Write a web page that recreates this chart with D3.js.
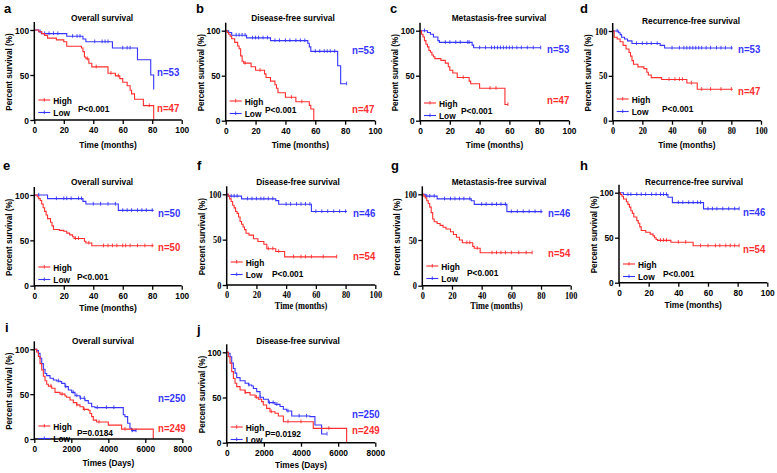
<!DOCTYPE html>
<html><head><meta charset="utf-8">
<script src="https://cdn.jsdelivr.net/npm/d3@7"></script>
<style>body{margin:0;background:#fff}svg{display:block}</style>
</head><body>
<svg id="c" width="777" height="473"></svg>
<script>
// ---------- DATA (time, survival %) step points; censor times ----------
const a_high = [[0,100],[3,98],[5,96],[7,94],[9,91],[15,89],[20,87],[22,82],[32,80],[33,76],[34,70],[35,68],[37,63],[39,59],[50,52],[55,49],[58,46],[60,42],[63,38],[65,33],[66,29],[68,23],[74,16],[81,0]];
const a_high_c = [36,42,52,57,78];
const a_low = [[0,100],[3,98],[5,96],[22,93],[33,90],[35,87],[53,80],[70,67],[79,50],[81,34]];
const a_low_c = [4,7,10,13,16,26,29,31,41,46,48,50,60,63,65];

const b_high = [[0,100],[1,98],[2,96],[3,94],[4,91],[6,87],[8,83],[9,80],[10,72],[11,66],[12,64],[17,60],[20,56],[26,52],[27,48],[30,44],[33,40],[34,36],[35,31],[40,26],[47,21],[56,17],[57,13],[59,0]];
const b_high_c = [13,23,44,51];
const b_low = [[0,100],[2,98],[4,95],[14,92],[30,89],[55,86],[56,82],[57,77],[75,61],[77,41],[81,41]];
const b_low_c = [7,9,11,13,18,20,22,25,28,33,36,40,43,47,50,53,60,63,66,68,70,73,81];

const c_high = [[0,100],[1,96],[2,93],[3,89],[4,85],[5,82],[6,78],[7,76],[8,73],[9,71],[10,69],[14,67],[17,64],[19,60],[20,56],[22,53],[25,48],[33,44],[34,41],[40,36],[57,18],[59,18]];
const c_high_c = [29,47,51,59];
const c_low = [[0,100],[5,98],[7,96],[9,93],[12,89],[13,87],[35,84],[36,81],[81,81]];
const c_low_c = [3,17,20,24,27,32,33,40,44,48,50,52,54,56,58,60,62,65,68,72,76,81];

const d_high = [[0,100],[1,93],[3,91],[5,88],[7,84],[9,80],[11,76],[12,72],[13,67],[14,63],[17,60],[21,58],[23,54],[24,51],[26,48],[33,46],[50,42],[57,35],[81,35]];
const d_high_c = [38,42,45,47,53,60,66,73,80];
const d_low = [[0,100],[4,98],[5,96],[6,93],[8,91],[10,89],[13,86],[32,84],[35,81],[81,81]];
const d_low_c = [3,16,20,23,26,30,40,45,48,50,52,54,56,58,60,63,66,70,73,76,80];

const e_high = [[0,100],[2,98],[3,96],[4,94],[5,90],[6,86],[7,82],[8,78],[9,74],[11,70],[12,66],[13,62],[17,61],[20,60],[22,58],[24,56],[26,54],[27,52],[34,49],[35,47],[39,44],[81,44]];
const e_high_c = [28,30,37,47,50,53,56,60,62,65,70,75,80];
const e_low = [[0,100],[9,96],[33,93],[35,90],[57,83],[81,83]];
const e_low_c = [3,15,20,22,25,30,32,40,45,50,55,60,63,66,70,73,76,80];

const f_high = [[0,100],[1,98],[2,95],[3,92],[4,88],[5,85],[6,81],[7,79],[8,75],[9,70],[10,67],[11,64],[12,61],[13,57],[15,55],[18,51],[21,48],[25,45],[27,40],[33,37],[39,31],[74,31]];
const f_high_c = [28,31,35,45,50,53,57,65,74];
const f_low = [[0,100],[1,98],[10,95],[33,93],[35,89],[57,81],[81,81]];
const f_low_c = [3,5,7,14,17,20,23,25,28,31,40,43,47,50,53,56,60,64,68,72,76,80];

const g_high = [[0,100],[1,98],[2,96],[3,93],[4,90],[5,86],[6,80],[7,73],[8,70],[10,68],[12,66],[14,64],[16,62],[19,59],[21,56],[23,53],[25,50],[27,47],[34,43],[35,41],[39,36],[74,36]];
const g_high_c = [30,32,37,47,50,53,56,60,65,70,74];
const g_low = [[0,100],[2,98],[10,95],[33,93],[35,89],[57,81],[81,81]];
const g_low_c = [3,5,8,15,19,22,25,28,32,40,43,47,50,53,56,60,64,68,72,76,80];

const h_high = [[0,100],[1,98],[2,96],[3,93],[5,90],[6,87],[7,84],[8,80],[9,77],[10,73],[12,69],[13,66],[14,62],[15,58],[18,56],[21,54],[23,52],[24,50],[25,48],[26,47],[35,45],[50,41],[81,41]];
const h_high_c = [28,30,32,40,45,55,60,65,68,72,75,78,81];
const h_low = [[0,100],[3,98],[33,95],[36,89],[57,82],[81,82]];
const h_low_c = [6,8,12,15,18,22,25,28,30,32,40,43,47,50,53,55,60,63,66,70,74,78,81];

const i_high = [[0,100],[130,97],[220,92],[310,84],[400,77],[490,70],[580,65],[670,61],[760,59],[940,56.5],[1120,52],[1390,50],[1660,48],[1750,46.5],[1930,43.5],[2110,40.5],[2290,38],[2470,36],[2650,33],[2920,32],[3010,28.5],[3100,25],[3190,21],[3370,19],[4000,15.5],[4720,11],[6430,0]];
const i_high_c = [900,1500,2300,2700,3500,4900];
const i_low = [[0,100],[130,98.5],[220,95.5],[310,90],[400,84],[490,77.7],[580,73],[670,70.6],[850,67.7],[1030,65.8],[1210,64.7],[1390,64],[1480,62],[1660,58.4],[1840,54.6],[2020,52],[2200,48.3],[2470,45.4],[2740,42.8],[2920,39.8],[3100,36],[3280,35],[4810,27],[4900,25],[5045,17.5],[5170,12],[5260,9.3],[5500,9.3]];
const i_low_c = [1300,1700,2100,2300,2500,2700,3400,3900,4300,5300,5500];

const j_high = [[0,100],[90,95],[180,88],[270,78.6],[360,71],[450,65.7],[540,62],[720,58.3],[990,55.4],[1260,52.8],[1530,50.2],[1700,48],[1880,45.4],[1970,41.7],[2150,38],[2330,34.3],[2600,32.5],[2780,29.5],[3050,23.2],[4660,15.9],[6457,0]];
const j_high_c = [1000,1600,2400,3300,4000,5500];
const j_low = [[0,100],[90,99],[180,95],[270,88],[360,82],[450,77],[540,72],[720,68.6],[990,65.7],[1170,63.8],[1345,62.7],[1435,60],[1615,56.5],[1795,50.2],[1975,48],[2240,44.3],[2600,42.4],[2870,40],[3050,37],[3230,35],[3500,29.5],[4480,28.8],[4750,19.5],[5110,9.6],[5380,9.6]];
const j_low_c = [1200,1800,2300,2500,2700,3300,3900,4300,5400];

const titles = ["Overall survival","Disease-free survival","Metastasis-free survival","Recurrence-free survival","Overall survival","Disease-free survival","Metastasis-free survival","Recurrence-free survival","Overall survival","Disease-free survival"];
const letters = ["a","b","c","d","e","f","g","h","i","j"];
const nHigh = ["n=47","n=47","n=47","n=47","n=50","n=54","n=54","n=54","n=249","n=249"];
const nLow  = ["n=53","n=53","n=53","n=53","n=50","n=46","n=46","n=46","n=250","n=250"];
const pText = ["P<0.001","P<0.001","P<0.001","P<0.001","P<0.001","P<0.001","P<0.001","P<0.001","P=0.0184","P=0.0192"];
const monthTicks = [0,20,40,60,80,100];
const dayTicks = [0,2000,4000,6000,8000];
const yTicks = [0,50,100];

// ---------- LAYOUT ----------
const RED = "#ff2e2e", BLUE = "#3535ff";
const SANS = "Liberation Sans, Arial, sans-serif", SERIF = "Liberation Serif, Times New Roman, serif";
const SX = 0.88;
const P = [
 {d:[a_high,a_high_c,a_low,a_low_c], L:34.3,R:181.7,T:30,B:120, tx:102,ty:21, lx:4,ly:13, xl:"Time (months)",xly:148, nx:157,nLy:72,nHy:108, px:78,py:112, legY:100, tf:SANS, xf:SANS},
 {d:[b_high,b_high_c,b_low,b_low_c], L:225.7,R:375,T:30.7,B:120.7, tx:293,ty:21, lx:196,ly:13, xl:"Time (months)",xly:148, nx:352,nLy:50,nHy:109, px:265,py:113, legY:101, tf:SANS, xf:SANS},
 {d:[c_high,c_high_c,c_low,c_low_c], L:420,R:569,T:30.7,B:120.7, tx:499,ty:21, lx:390,ly:13, xl:"Time (months)",xly:148, nx:547,nLy:49,nHy:100, px:461,py:114, legY:103, tf:SANS, xf:SANS},
 {d:[d_high,d_high_c,d_low,d_low_c], L:612.7,R:761,T:31,B:120.7, tx:691,ty:24, lx:580,ly:13, xl:"Time (months)",xly:148, nx:738,nLy:49,nHy:91, px:662,py:112, legY:99, tf:SERIF, xf:SANS},
 {d:[e_high,e_high_c,e_low,e_low_c], L:34.3,R:181.7,T:195,B:285.7, tx:102,ty:185, lx:3,ly:170, xl:"Time (months)",xly:311, nx:158,nLy:213,nHy:247, px:77,py:280, legY:267, tf:SANS, xf:SANS},
 {d:[f_high,f_high_c,f_low,f_low_c], L:226.7,R:375.3,T:194.3,B:285, tx:298,ty:185, lx:197,ly:170, xl:"Time (months)",xly:309, nx:353,nLy:213,nHy:256, px:272,py:277, legY:262, tf:SERIF, xf:SERIF},
 {d:[g_high,g_high_c,g_low,g_low_c], L:422.3,R:570.7,T:194.3,B:285.7, tx:499,ty:185, lx:391,ly:170, xl:"Time (months)",xly:309, nx:548,nLy:213,nHy:253, px:467,py:276, legY:266, tf:SERIF, xf:SERIF},
 {d:[h_high,h_high_c,h_low,h_low_c], L:619,R:767.3,T:192.7,B:282.7, tx:694,ty:185, lx:580,ly:170, xl:"Time (months)",xly:308, nx:743,nLy:212,nHy:249, px:663,py:277, legY:264, tf:SANS, xf:SANS},
 {d:[i_high,i_high_c,i_low,i_low_c], L:34.3,R:182.3,T:349.3,B:439, tx:103,ty:344, lx:5,ly:332, xl:"Times (Days)",xly:466, nx:158,nLy:398,nHy:428, px:77,py:436, legY:426, tf:SANS, xf:SANS, days:true},
 {d:[j_high,j_high_c,j_low,j_low_c], L:226.7,R:375.3,T:352.3,B:442.7, tx:298,ty:344, lx:197,ly:334, xl:"Times (Days)",xly:468, nx:352,nLy:414,nHy:430, px:265,py:437, legY:427, tf:SANS, xf:SANS, days:true}
];

const svg = d3.select("#c");
svg.append("rect").attr("width",777).attr("height",473).attr("fill","#fff");

function survAt(curve, t){
  let s = curve[0][1];
  for (const p of curve){ if (p[0] <= t) s = p[1]; else break; }
  return s;
}
function txt(g, x, y, s, o){
  o = o || {};
  const t = g.append("text")
    .attr("transform",`translate(${x},${y}) ${o.rot?"rotate(-90)":""} scale(${o.sx||SX},1)`)
    .attr("text-anchor",o.anchor||"start")
    .attr("fill",o.fill||"#000")
    .style("font-family",o.font||SANS)
    .style("font-weight",o.weight||"bold")
    .style("font-size",(o.size||9.5)+"px")
    .text(s);
  return t;
}

P.forEach((p,i)=>{
  const g = svg.append("g");
  const x = d3.scaleLinear().domain(p.days?[0,8000]:[0,100]).range([p.L,p.R]);
  const y = d3.scaleLinear().domain([0,100]).range([p.B,p.T]);

  // curves
  const line = d3.line().x(d=>x(d[0])).y(d=>y(d[1])).curve(d3.curveStepAfter);
  const series = [[p.d[2],p.d[3],BLUE],[p.d[0],p.d[1],RED]];
  series.forEach(([cv,cens,col])=>{
    g.append("path").attr("d",line(cv)).attr("fill","none").attr("stroke",col).attr("stroke-width",1.1);
    g.selectAll(null).data(cens).enter().append("line")
      .attr("x1",d=>x(d)).attr("x2",d=>x(d))
      .attr("y1",d=>y(survAt(cv,d))-2.2).attr("y2",d=>y(survAt(cv,d))+1.5)
      .attr("stroke",col).attr("stroke-width",0.9);
  });

  // axes
  const ya = d3.axisLeft(y).tickValues(yTicks).tickSize(4).tickPadding(2);
  const xa = d3.axisBottom(x).tickValues(p.days?dayTicks:monthTicks).tickFormat(d3.format("d")).tickSize(4).tickPadding(2.5);
  const gy = g.append("g").attr("transform",`translate(${p.L},0)`).call(ya);
  const gx = g.append("g").attr("transform",`translate(0,${p.B})`).call(xa);
  [gy,gx].forEach(a=>{
    a.select(".domain").remove();
    a.selectAll(".tick line").attr("stroke","#000").attr("stroke-width",1.3);
    a.selectAll(".tick text").attr("fill","#000").attr("transform",`scale(${SX},1)`)
      .style("font-family",p.tf).style("font-weight","bold").style("font-size","9.5px");
  });
  g.append("line").attr("x1",p.L).attr("x2",p.L).attr("y1",p.B+0.6).attr("y2",p.T-8).attr("stroke","#000").attr("stroke-width",1.5);
  g.append("line").attr("x1",p.L).attr("x2",p.R).attr("y1",p.B).attr("y2",p.B).attr("stroke","#000").attr("stroke-width",1.5);

  // texts
  txt(g, p.tx, p.ty, titles[i], {anchor:"middle", size:9.5});
  txt(g, p.lx, p.ly, letters[i], {size:13, sx:1});
  txt(g, (p.L+p.R)/2, p.xly, p.xl, {anchor:"middle", font:p.xf, size:9.5});
  txt(g, p.L-22, (p.T+p.B)/2 - 3, "Percent survival (%)", {anchor:"middle", rot:true, size:9, sx:0.9});

  // n labels
  txt(g, p.nx, p.nLy+3.5, nLow[i], {fill:BLUE, size:10.5, sx:0.92});
  txt(g, p.nx, p.nHy+3.5, nHigh[i], {fill:RED, size:10.5, sx:0.92});

  // legend
  [["High",RED,p.legY],["Low",BLUE,p.legY+12.5]].forEach(([lab,col,ly])=>{
    const lx = p.L+4;
    g.append("line").attr("x1",lx).attr("x2",lx+12).attr("y1",ly).attr("y2",ly).attr("stroke",col).attr("stroke-width",1.1);
    g.append("line").attr("x1",lx+6).attr("x2",lx+6).attr("y1",ly-2).attr("y2",ly+1.5).attr("stroke",col).attr("stroke-width",0.9);
    txt(g, lx+15, ly+3.5, lab, {size:9.5});
  });
  txt(g, p.px, p.py, pText[i], {size:9.5});
});
</script>
</body></html>
